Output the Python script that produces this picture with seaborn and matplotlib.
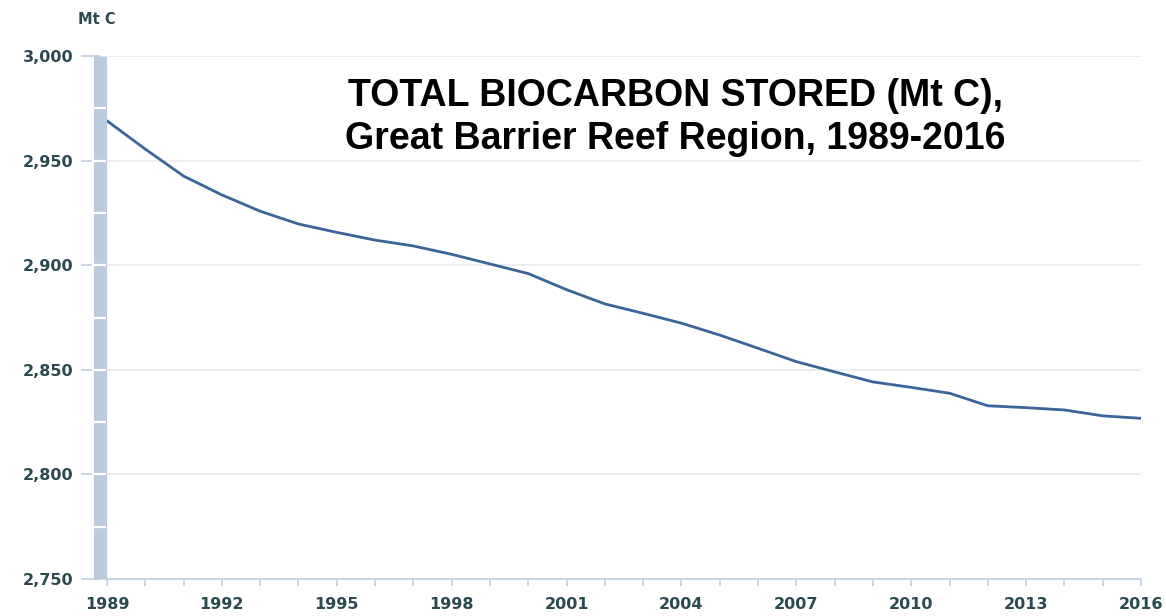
import numpy as np
import pandas as pd
import matplotlib
matplotlib.use('Agg')
import matplotlib.pyplot as plt
import matplotlib.transforms as mtransforms
import seaborn as sns

# values (Mt C)
years = list(range(1989, 2017))
biocarbon = [2969.0, 2955.5, 2942.6, 2933.6, 2925.8, 2919.7, 2915.7, 2912.0, 2909.2, 2905.2,
             2900.6, 2896.0, 2888.3, 2881.5, 2877.0, 2872.3, 2866.6, 2860.3, 2853.9, 2849.0,
             2844.2, 2841.6, 2838.8, 2832.8, 2831.9, 2830.8, 2828.0, 2826.8]
label_years = list(range(1989, 2017, 3))
y_ticks = [2750, 2800, 2850, 2900, 2950, 3000]

df = pd.DataFrame({'year': years, 'carbon': biocarbon})

sns.set_style('white')
plt.rcParams['font.family'] = ['DejaVu Sans']

bar_blue = '#bccbdc'
tick_blue = '#c3d2e2'
text_col = '#2a4a50'

fig = plt.figure(figsize=(11.66, 6.16), dpi=100)
ax = fig.add_axes([107 / 1166, 1 - 579 / 616, (1141 - 107) / 1166, (579 - 56) / 616])

sns.lineplot(data=df, x='year', y='carbon', ax=ax, color='#3b6599', linewidth=2.0, zorder=5)

ax.set_xlim(1989, 2016)
ax.set_ylim(2750, 3000)
ax.set_yticks(y_ticks)
ax.set_yticklabels([f'{v:,}' for v in y_ticks])
ax.set_xticks(years)
ax.set_xticklabels([str(y) if y in label_years else '' for y in years])

ax.grid(axis='y', color='#eaeaea', linewidth=1.2)
ax.grid(axis='x', visible=False)
ax.set_xlabel('')
ax.set_ylabel('')

for s in ['top', 'right']:
    ax.spines[s].set_visible(False)
ax.spines['left'].set_color(bar_blue)
ax.spines['left'].set_linewidth(9.5)
ax.spines['left'].set_capstyle('butt')
ax.spines['left'].set_position(('outward', 5))
ax.spines['bottom'].set_color(tick_blue)
ax.spines['bottom'].set_linewidth(1.3)

ax.tick_params(axis='y', length=14, width=1.3, color=tick_blue, pad=5, left=True,
               labelsize=11.5, labelcolor=text_col)
ax.tick_params(axis='x', length=5, width=1.3, color=tick_blue, pad=8, bottom=True,
               direction='out', labelsize=11.5, labelcolor=text_col)
for lab in ax.get_yticklabels() + ax.get_xticklabels():
    lab.set_fontweight('bold')

# white separators across the left bar
trans = mtransforms.blended_transform_factory(ax.transAxes, ax.transData)
seps = list(range(2775, 3000, 25))
ax.hlines(seps, -0.0145, -0.0005, transform=trans, color='white', linewidth=1.6,
          clip_on=False, zorder=10)

fig.text(78 / 1166, 1 - 20 / 616, 'Mt C', color=text_col, fontsize=10.5, fontweight='bold',
         va='center', ha='left')

ax.text(0.550, 0.883, 'TOTAL BIOCARBON STORED (Mt C),\nGreat Barrier Reef Region, 1989-2016',
        transform=ax.transAxes, ha='center', va='center', fontsize=27, fontweight='bold',
        family=['Liberation Sans', 'DejaVu Sans'], color='black', linespacing=1.25)

fig.savefig('out.png', dpi=100)
